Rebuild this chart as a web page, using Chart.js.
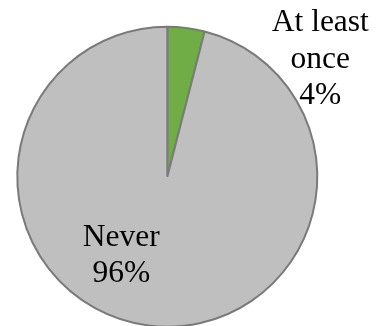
<!DOCTYPE html>
<html>
<head>
<meta charset="utf-8">
<script src="https://cdn.jsdelivr.net/npm/chart.js@4"></script>
<style>
  html, body { margin: 0; padding: 0; background: #fff; overflow: hidden; }
  #wrap { width: 384px; height: 330px; position: relative; }
</style>
</head>
<body>
<div id="wrap"><canvas id="pie"></canvas></div>
<script>
// survey answers, share of respondents
const categories = [['At least', 'once'], 'Never'];
const shares     = [4, 96];
const sliceColors = ['#70ad47', '#bfbfbf'];

// where each label's first baseline sits, relative to the pie centre
const labelAnchors = [
  { dx: 153, dy: -145.5 },
  { dx: -46, dy: 69 },
];

const LABEL_FONT = '31.5px "Liberation Serif", "Times New Roman", serif';
const LINE_HEIGHT = 36.6;

// draws "name / pct%" text blocks next to each slice
const sliceLabels = {
  id: 'sliceLabels',
  afterDatasetsDraw(chart) {
    const ctx = chart.ctx;
    const meta = chart.getDatasetMeta(0);
    const data = chart.data.datasets[0].data;
    const total = data.reduce((a, b) => a + b, 0);
    ctx.save();
    ctx.font = LABEL_FONT;
    ctx.fillStyle = '#000';
    ctx.textAlign = 'center';
    ctx.textBaseline = 'alphabetic';
    meta.data.forEach((arc, i) => {
      const { x, y } = arc.getProps(['x', 'y'], true);
      const name = chart.data.labels[i];
      const lines = (Array.isArray(name) ? name.slice() : [name]);
      lines.push(Math.round(data[i] / total * 100) + '%');
      const a = labelAnchors[i];
      lines.forEach((ln, k) => {
        ctx.fillText(ln, x + a.dx, y + a.dy + k * LINE_HEIGHT);
      });
    });
    ctx.restore();
  },
};

new Chart(document.getElementById('pie'), {
  type: 'pie',
  data: {
    labels: categories,
    datasets: [{
      data: shares,
      backgroundColor: sliceColors,
      borderColor: '#7a7a7a',
      borderWidth: 2,
    }],
  },
  options: {
    responsive: true,
    maintainAspectRatio: false,
    animation: false,
    radius: 150,
    layout: { padding: { left: 0, right: 49.4, top: 23.5, bottom: 0 } },
    plugins: {
      legend: { display: false },
      tooltip: { enabled: false },
    },
  },
  plugins: [sliceLabels],
});
</script>
</body>
</html>
